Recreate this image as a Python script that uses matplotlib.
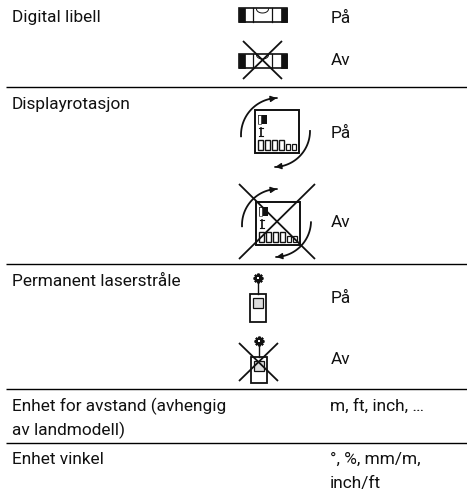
import numpy as np
import matplotlib
matplotlib.use("Agg")
import matplotlib.pyplot as plt
from matplotlib.patches import Rectangle

# table text: (text, x, baseline y)
left_labels = ["Digital libell", "Displayrotasjon", "Permanent laserstråle",
               "Enhet for avstand (avhengig", "av landmodell)", "Enhet vinkel"]
left_y = [22, 109, 286, 411, 435, 464]
right_labels = ["På", "Av", "På", "Av", "På", "Av",
                "m, ft, inch, …", "°, %, mm/m,", "inch/ft"]
right_y = [23, 65, 138, 227, 303, 364, 411, 464, 488]
right_x = [331, 331, 331, 331, 331, 331, 330, 330, 330]
rule_y = [87, 264, 389, 443]

INK = "#111111"
FONT = ["Roboto", "DejaVu Sans"]
SIZE = 12.4

fig = plt.figure(figsize=(4.67, 4.94), dpi=100)
ax = fig.add_axes([0, 0, 1, 1])
ax.set_xlim(0, 467)
ax.set_ylim(494, 0)
ax.axis("off")


def cross(x0, y0, x1, y1):
    ax.plot([x0, x1], [y0, y1], color=INK, lw=1.3, solid_capstyle="butt")
    ax.plot([x1, x0], [y0, y1], color=INK, lw=1.3, solid_capstyle="butt")


def level(x, y):
    # bubble level, 48 wide and 14 high
    ax.add_patch(Rectangle((x, y), 48, 14, fc="white", ec=INK, lw=1.2))
    ax.add_patch(Rectangle((x, y), 6, 14, fc=INK, ec=INK, lw=0.5))
    ax.add_patch(Rectangle((x + 42, y), 6, 14, fc=INK, ec=INK, lw=0.5))
    ax.plot([x + 14, x + 14], [y, y + 14], color=INK, lw=0.9)
    ax.plot([x + 33, x + 33], [y, y + 14], color=INK, lw=0.9)
    a = np.linspace(0, np.pi, 20)
    ax.plot(x + 23.5 + 6 * np.cos(a), y + 1 + 4 * np.sin(a), color=INK, lw=0.7)


def arc(cx, cy, r, a0, a1):
    a = np.radians(np.linspace(a0, a1, 40))
    xs, ys = cx + r * np.cos(a), cy + r * np.sin(a)
    ax.plot(xs, ys, color=INK, lw=1.3)
    # arrow head at the end of the arc
    ax.annotate("", xy=(xs[-1], ys[-1]), xytext=(xs[-6], ys[-6]),
                arrowprops=dict(arrowstyle="-|>", color=INK, lw=1, mutation_scale=9,
                                shrinkA=0, shrinkB=0))


def display(x, y):
    # device screen, 44 square
    ax.add_patch(Rectangle((x, y), 44, 43, fc="white", ec=INK, lw=1.4))
    ax.add_patch(Rectangle((x + 3, y + 5), 9, 9, fc=INK, ec="none"))
    ax.add_patch(Rectangle((x + 3, y + 5), 3, 9, fc="white", ec=INK, lw=0.4))
    ax.plot([x + 6, x + 6], [y + 18, y + 26], color=INK, lw=1.2)
    ax.plot([x + 4, x + 8], [y + 18, y + 18], color=INK, lw=0.8)
    ax.plot([x + 4, x + 8], [y + 26, y + 26], color=INK, lw=0.8)
    for dx in [3, 10, 17, 24]:
        ax.add_patch(Rectangle((x + dx, y + 30), 5, 10, fc="white", ec=INK, lw=1))
    for dx in [31, 37]:
        ax.add_patch(Rectangle((x + dx, y + 34), 3.5, 6, fc="white", ec=INK, lw=0.9))


def laser(x, y, h):
    # star on a stem, then the device body
    ax.plot([x + 8, x + 8], [y - 12, y], color=INK, lw=1)
    ax.plot([x + 8], [y - 16], marker=(8, 2, 0), ms=7, mew=1.6, color=INK)
    ax.plot([x + 8], [y - 16], marker="s", ms=2, mew=0, mfc="white")
    ax.add_patch(Rectangle((x, y), 16, h, fc="white", ec=INK, lw=1.3))
    ax.add_patch(Rectangle((x + 3, y + 3.5), 10, 10, fc="#dddddd", ec=INK, lw=0.9))


for y in rule_y:
    ax.plot([6, 467], [y, y], color="black", lw=1, solid_capstyle="butt")

for t, y in zip(left_labels, left_y):
    ax.text(12, y, t, fontsize=SIZE, family=FONT, color=INK, va="baseline", ha="left")
for t, x, y in zip(right_labels, right_x, right_y):
    ax.text(x, y, t, fontsize=SIZE, family=FONT, color=INK, va="baseline", ha="left")

level(239, 8)
level(239, 54)
cross(243, 41, 282, 79)

display(255, 110)
arc(278, 135, 37, 178, 268)
arc(274, 131, 36, 0, 88)

display(256, 202)
arc(278, 225, 36, 178, 268)
arc(275, 221, 36, 2, 88)
cross(239, 184, 315, 259)

laser(250, 294, 28)
laser(251, 357, 26)
cross(239, 343, 278, 381)

fig.savefig("out.png", dpi=100)
